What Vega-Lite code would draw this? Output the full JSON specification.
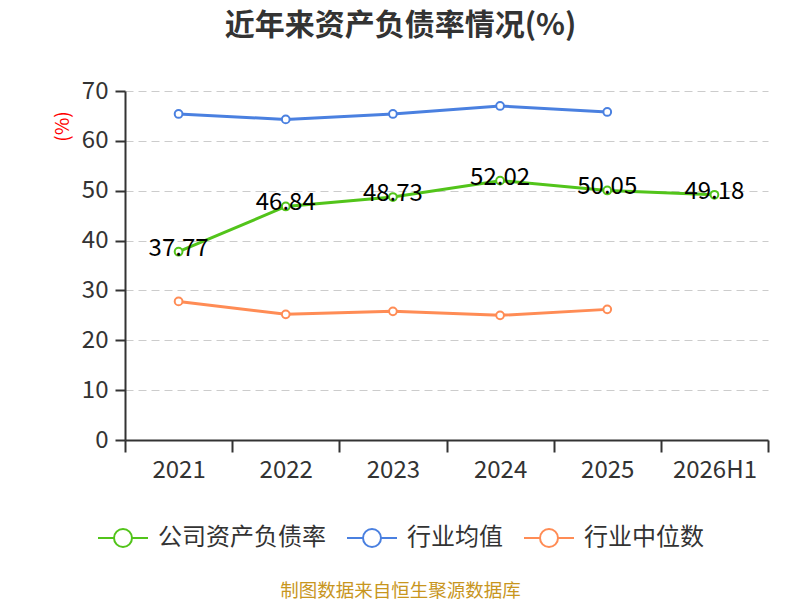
{
  "$schema": "https://vega.github.io/schema/vega-lite/v6.json",
  "width": 643,
  "height": 349,
  "autosize": "none",
  "padding": {"left": 125, "top": 91, "right": 32, "bottom": 160},
  "background": "white",
  "title": {
    "text": "近年来资产负债率情况(%)",
    "font": "Noto Sans CJK SC",
    "fontSize": 30,
    "fontWeight": "bold",
    "color": "#333333",
    "anchor": "middle",
    "dx": -46,
    "offset": 38
  },
  "data": {
    "values": [
      {"period": "2021", "series": "公司资产负债率", "value": 37.77},
      {"period": "2022", "series": "公司资产负债率", "value": 46.84},
      {"period": "2023", "series": "公司资产负债率", "value": 48.73},
      {"period": "2024", "series": "公司资产负债率", "value": 52.02},
      {"period": "2025", "series": "公司资产负债率", "value": 50.05},
      {"period": "2026H1", "series": "公司资产负债率", "value": 49.18},
      {"period": "2021", "series": "行业均值", "value": 65.4},
      {"period": "2022", "series": "行业均值", "value": 64.3},
      {"period": "2023", "series": "行业均值", "value": 65.4},
      {"period": "2024", "series": "行业均值", "value": 67.0},
      {"period": "2025", "series": "行业均值", "value": 65.8},
      {"period": "2021", "series": "行业中位数", "value": 27.8},
      {"period": "2022", "series": "行业中位数", "value": 25.2},
      {"period": "2023", "series": "行业中位数", "value": 25.8},
      {"period": "2024", "series": "行业中位数", "value": 25.0},
      {"period": "2025", "series": "行业中位数", "value": 26.2}
    ]
  },
  "encoding": {
    "x": {
      "field": "period",
      "type": "ordinal",
      "sort": null,
      "scale": {"type": "band", "paddingInner": 0, "paddingOuter": 0},
      "axis": {
        "labelAngle": 0,
        "tickBand": "extent",
        "tickSize": 12,
        "labelPadding": 6,
        "title": "制图数据来自恒生聚源数据库",
        "titleColor": "#c8961e",
        "titleFontSize": 18.5,
        "titleFontWeight": "normal",
        "titleBaseline": "middle",
        "titleAlign": "center",
        "titleX": 275,
        "titleY": 150
      }
    },
    "y": {
      "field": "value",
      "type": "quantitative",
      "scale": {"domain": [0, 70]},
      "axis": {
        "values": [0, 10, 20, 30, 40, 50, 60, 70],
        "tickSize": 10,
        "labelPadding": 7,
        "grid": true,
        "gridDash": [8, 5],
        "gridColor": "#cccccc",
        "title": "(%)",
        "titleColor": "#ff0000",
        "titleFontSize": 19,
        "titleFontWeight": "normal",
        "titleAngle": 270,
        "titleAlign": "center",
        "titleBaseline": "middle",
        "titleX": -63,
        "titleY": 35
      }
    }
  },
  "layer": [
    {
      "mark": {"type": "line", "strokeWidth": 3},
      "encoding": {
        "stroke": {
          "field": "series",
          "type": "nominal",
          "scale": {
            "domain": ["公司资产负债率", "行业均值", "行业中位数"],
            "range": ["#52c41a", "#4a80e0", "#ff8c55"]
          },
          "legend": {
            "orient": "none",
            "legendX": -28,
            "legendY": 421,
            "direction": "horizontal",
            "title": null,
            "symbolType": "M-1,0L-0.36,0M0.36,0L1,0M-0.36,0A0.36,0.36,0,1,0,0.36,0A0.36,0.36,0,1,0,-0.36,0",
            "symbolSize": 2500,
            "symbolStrokeWidth": 2,
            "symbolFillColor": "white",
            "labelFontSize": 24,
            "labelColor": "#333333",
            "labelOffset": 9,
            "columnPadding": 17,
            "labelLimit": 300
          }
        }
      }
    },
    {
      "mark": {"type": "point", "shape": "circle", "filled": true, "fill": "white", "size": 60, "strokeWidth": 2, "opacity": 1},
      "encoding": {
        "stroke": {"field": "series", "type": "nominal"}
      }
    },
    {
      "transform": [{"filter": "datum.series === '公司资产负债率'"}],
      "mark": {"type": "text", "fontSize": 24, "color": "#000000", "baseline": "middle", "dy": -3},
      "encoding": {
        "text": {"field": "value", "type": "quantitative", "format": ".2f"}
      }
    }
  ],
  "config": {
    "font": "Noto Sans CJK SC",
    "view": {"stroke": null},
    "axis": {
      "labelFont": "Noto Sans CJK SC",
      "labelFontSize": 24,
      "labelColor": "#333333",
      "domainColor": "#333333",
      "domainWidth": 2,
      "tickColor": "#333333",
      "tickWidth": 2,
      "titleFont": "Noto Sans CJK SC"
    },
    "legend": {"labelFont": "Noto Sans CJK SC"}
  }
}
